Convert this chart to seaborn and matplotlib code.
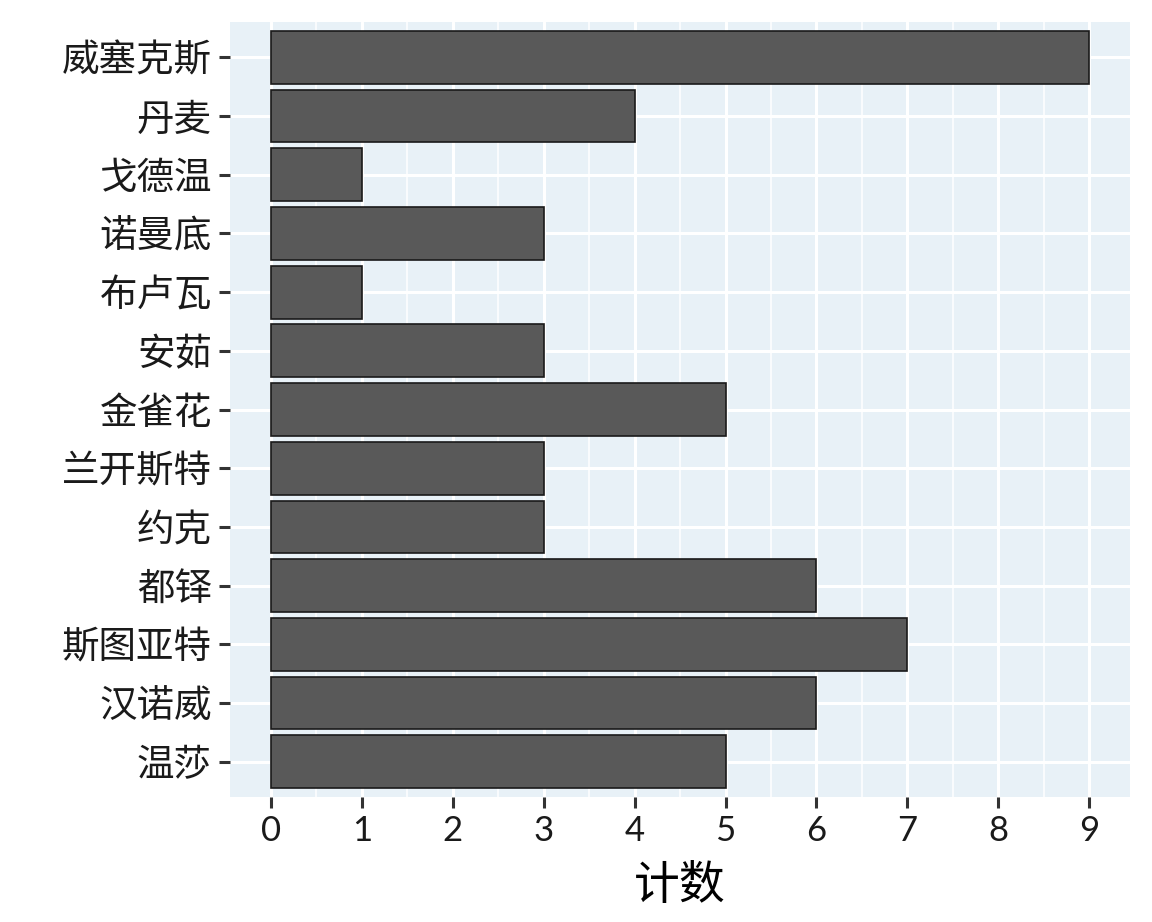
import numpy as np
import pandas as pd
import matplotlib
matplotlib.use("Agg")
import matplotlib.pyplot as plt
import seaborn as sns
from matplotlib.ticker import MultipleLocator

# data (top to bottom)
regions = ["威塞克斯", "丹麦", "戈德温", "诺曼底", "布卢瓦", "安茹", "金雀花",
           "兰开斯特", "约克", "都铎", "斯图亚特", "汉诺威", "温莎"]
counts = [9, 4, 1, 3, 1, 3, 5, 3, 3, 6, 7, 6, 5]

df = pd.DataFrame({"王朝": regions, "计数": counts})

sns.set_theme(style="white")
plt.rcParams["font.family"] = ["Lato", "Noto Sans CJK SC", "DejaVu Sans"]

fig = plt.figure(figsize=(11.52, 9.22), dpi=100)
ax = fig.add_axes([0.1997, 0.1356, 0.7813, 0.8404])
ax.set_facecolor("#E8F1F7")

sns.barplot(data=df, x="计数", y="王朝", order=regions, orient="h",
            color="#595959", saturation=1, width=0.9,
            edgecolor="#1a1a1a", linewidth=1.2, ax=ax, zorder=3)

ax.set_xlim(-0.45, 9.45)
ax.set_ylim(len(regions) - 0.4, -0.6)
ax.xaxis.set_major_locator(MultipleLocator(1))
ax.xaxis.set_minor_locator(MultipleLocator(0.5))
ax.grid(which="major", color="white", linewidth=2.2, zorder=0)
ax.grid(which="minor", axis="x", color="white", linewidth=1.1, zorder=0)
ax.set_axisbelow(True)

for s in ax.spines.values():
    s.set_visible(False)

ax.tick_params(axis="both", which="major", bottom=True, left=True,
               length=8, width=2.2, color="#333333",
               labelcolor="#1a1a1a", pad=5)
ax.tick_params(axis="x", which="major", labelsize=25)
ax.tick_params(axis="x", which="minor", length=0)
ax.tick_params(axis="y", labelsize=27)
ax.set_ylabel("")
ax.set_xlabel("计数", fontsize=33, color="black", labelpad=12)

fig.savefig("out.png", dpi=100, facecolor="white")
